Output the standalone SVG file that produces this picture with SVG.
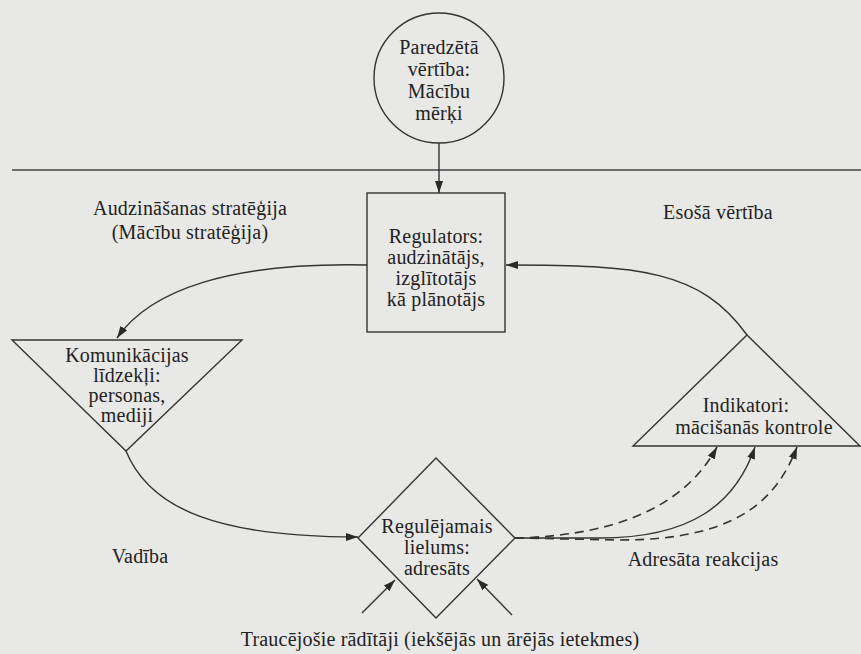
<svg xmlns="http://www.w3.org/2000/svg" width="861" height="654" viewBox="0 0 861 654">
<defs>
<marker id="ah" viewBox="0 0 12 8" refX="12" refY="4" markerWidth="12" markerHeight="8" markerUnits="userSpaceOnUse" orient="auto">
<path d="M0,0 L12,4 L0,8 z" fill="#2a2a2a"/>
</marker>
<style>
.s{fill:none;stroke:#333;stroke-width:1.4}
.c{fill:none;stroke:#333;stroke-width:1.4;marker-end:url(#ah)}
.d{fill:none;stroke:#333;stroke-width:1.6;stroke-dasharray:9,6;marker-end:url(#ah)}
text{font-family:"Liberation Serif","DejaVu Serif",serif;font-size:20px;letter-spacing:0.2px;fill:#222;text-anchor:middle}
</style>
</defs>
<rect width="861" height="654" fill="#e8e8e6"/>
<line x1="12" y1="170" x2="861" y2="170" stroke="#444" stroke-width="1.4"/>
<g id="goal">
<circle class="s" cx="439" cy="78" r="65"/>
<text x="439" y="54">Paredzētā</text>
<text x="439" y="76">vērtība:</text>
<text x="439" y="98">Mācību</text>
<text x="439" y="120">mērķi</text>
</g>
<g id="regulator">
<rect class="s" x="367" y="193" width="138" height="139"/>
<text x="436" y="243">Regulators:</text>
<text x="436" y="264">audzinātājs,</text>
<text x="436" y="285">izglītotājs</text>
<text x="436" y="306">kā plānotājs</text>
</g>
<g id="means">
<path class="s" d="M12,340 L242,340 L126,451 Z"/>
<text x="127" y="362">Komunikācijas</text>
<text x="127" y="382">līdzekļi:</text>
<text x="127" y="402">personas,</text>
<text x="127" y="422">mediji</text>
</g>
<g id="addressee">
<path class="s" d="M436,458 L515,538 L436,618 L358,538 Z"/>
<text x="437" y="533">Regulējamais</text>
<text x="437" y="554">lielums:</text>
<text x="437" y="575">adresāts</text>
</g>
<g id="indicators">
<path class="s" d="M747,335 L860,446 L633,446 Z"/>
<text x="746" y="412">Indikatori:</text>
<text x="754" y="434">mācišanās kontrole</text>
</g>
<g id="labels">
<text x="190" y="215">Audzināšanas stratēģija</text>
<text x="190" y="239">(Mācību stratēģija)</text>
<text x="718" y="219">Esošā vērtība</text>
<text x="140" y="563">Vadība</text>
<text x="703" y="566">Adresāta reakcijas</text>
<text x="440" y="646">Traucējošie rādītāji (iekšējās un ārējās ietekmes)</text>
</g>
<g id="connectors">
<path class="c" d="M439,143 L439,193"/>
<path class="c" d="M367,265 C230,262 150,290 117,338"/>
<path class="c" d="M126,451 C150,510 220,537 358,537"/>
<path class="c" d="M747,335 C700,270 640,265 506,265"/>
<path class="c" d="M362,613 L395,580"/>
<path class="c" d="M512,615 L477,579"/>
<path class="d" d="M515,538 C600,536 680,515 717,447"/>
<path class="c" d="M515,538 L600,538 C690,538 735,505 755,447"/>
<path class="d" d="M515,538 L620,540 C730,540 775,505 797,447"/>
</g>
</svg>
